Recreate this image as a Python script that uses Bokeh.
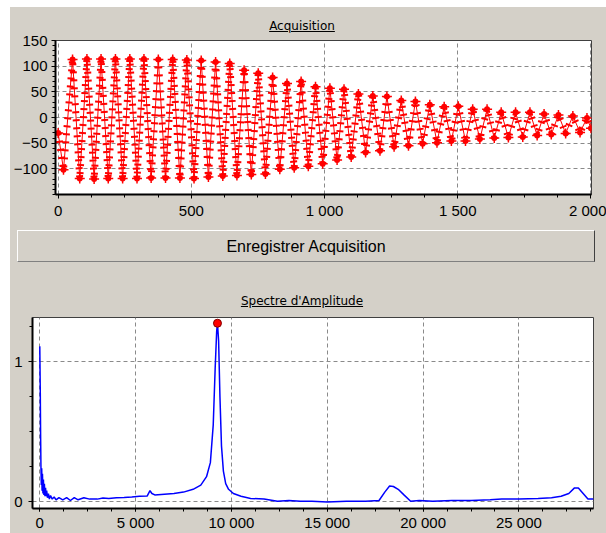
from bokeh.plotting import figure
from bokeh.models import Div, FixedTicker, Range1d
from bokeh.layouts import column
from bokeh.embed import file_html
from bokeh.resources import INLINE

BG = "#D4D0C8"
TICK_FONT = "Liberation Sans"

# ---------------- data: acquisition (extremes of the damped oscillation) -------------
acq_x = [0, 20, 54, 81, 108, 135, 161, 188, 215, 242, 269, 296, 322, 349, 376, 403,
         430, 457, 483, 510, 537, 564, 591, 618, 644, 671, 698, 725, 751, 778, 805,
         832, 859, 886, 912, 939, 966, 993, 1020, 1047, 1073, 1100, 1127, 1154, 1181,
         1208, 1234, 1261, 1288, 1315, 1341, 1368, 1395, 1422, 1449, 1476, 1502, 1529,
         1556, 1583, 1610, 1637, 1663, 1690, 1717, 1744, 1771, 1798, 1824, 1851, 1878,
         1905, 1932, 1959, 1985, 2000]
acq_y = [-30, -102, 113, -119, 114, -120, 114, -119, 114, -119, 114, -119, 114, -118,
         113, -118, 113, -118, 112, -119, 111, -116, 108, -114, 105, -113, 92, -111,
         86, -110, 78, -101, 66, -98, 70, -95, 60, -90, 57, -83, 55, -77, 46, -68, 42,
         -65, 41, -57, 33, -55, 31, -51, 25, -49, 21, -46, 22, -46, 16, -42, 16, -40,
         10, -39, 10, -38, 10, -35, 7, -33, 5, -31, 3, -29, -1, -21]

acq_xticks = [0, 500, 1000, 1500, 2000]
acq_xlabels = ["0", "500", "1 000", "1 500", "2 000"]
acq_yticks = [-100, -50, 0, 50, 100, 150]

# ---------------- data: amplitude spectrum -------------
spec_f = [0, 25, 45, 60, 80, 100, 120, 140, 165, 190, 215, 240, 270, 300, 330, 360,
          400, 450, 500, 560, 650, 750, 850, 1000, 1200, 1400, 1600, 1800, 2000, 2300,
          2600, 3000, 3300, 3600, 4000, 4400, 4800, 5200, 5600, 5750, 5850, 6000, 6500,
          7000, 7500, 8000, 8400, 8700, 8900, 9050, 9150, 9230, 9271, 9330, 9400, 9480,
          9580, 9700, 9850, 10100, 10500, 11000, 11700, 12400, 13000, 13600, 14200,
          15000, 16000, 17000, 17700, 18000, 18250, 18450, 18700, 19000, 19350, 19800,
          20500, 21500, 22500, 23500, 24100, 25000, 26000, 26700, 27200, 27600, 27900,
          28100, 28350, 28600, 28890]
spec_a = [1.11, 0.80, 0.45, 0.26, 0.12, 0.24, 0.08, 0.20, 0.06, 0.16, 0.05, 0.13,
          0.04, 0.10, 0.04, 0.08, 0.03, 0.06, 0.02, 0.045, 0.02, 0.035, 0.015, 0.03,
          0.015, 0.03, 0.01, 0.03, 0.015, 0.03, 0.02, 0.02, 0.028, 0.025, 0.03, 0.032,
          0.035, 0.04, 0.042, 0.08, 0.06, 0.05, 0.055, 0.06, 0.07, 0.09, 0.12, 0.18,
          0.28, 0.55, 0.95, 1.22, 1.275, 1.15, 0.75, 0.40, 0.22, 0.13, 0.09, 0.06, 0.04,
          0.025, 0.02, 0.005, 0.01, 0.005, 0.005, 0.0, 0.005, 0.005, 0.01, 0.07, 0.113,
          0.11, 0.09, 0.05, 0.005, 0.01, 0.005, 0.01, 0.01, 0.015, 0.02, 0.02, 0.025,
          0.03, 0.04, 0.06, 0.10, 0.10, 0.06, 0.02, 0.02]
peak_f = [9271]
peak_a = [1.275]

spec_xticks = [0, 5000, 10000, 15000, 20000, 25000]
spec_xlabels = ["0", "5 000", "10 000", "15 000", "20 000", "25 000"]
spec_yticks = [0, 1]


def style_axes(p, xt, xl, xminor, yt, yminor, font_size):
    p.xaxis.ticker = FixedTicker(ticks=xt, minor_ticks=xminor)
    p.xaxis.major_label_overrides = {t: l for t, l in zip(xt, xl)}
    p.yaxis.ticker = FixedTicker(ticks=yt, minor_ticks=yminor)
    for ax in (p.xaxis[0], p.yaxis[0]):
        ax.axis_line_color = "black"
        ax.axis_line_width = 2
        ax.major_tick_line_color = "black"
        ax.minor_tick_line_color = "black"
        ax.major_tick_in = 0
        ax.minor_tick_in = 0
        ax.major_tick_out = 4
        ax.minor_tick_out = 3
        ax.major_label_text_font = TICK_FONT
        ax.major_label_text_font_size = font_size
        ax.major_label_text_color = "black"
    p.xaxis.major_label_standoff = 3
    p.yaxis.major_label_standoff = 4
    for g in (p.xgrid[0], p.ygrid[0]):
        g.grid_line_color = "#8a8a8a"
        g.grid_line_dash = "4 3"
        g.grid_line_width = 1
    p.xgrid.ticker = FixedTicker(ticks=xt)
    p.ygrid.ticker = FixedTicker(ticks=yt)


W = 596  # layout width (starts 10px from the left edge)

# ---------------- top figure -------------
p1 = figure(width=W, height=196, x_range=Range1d(-10, 2002), y_range=Range1d(-150, 150),
            output_backend="svg", toolbar_location=None,
            min_border_left=44, min_border_right=15, min_border_top=8, min_border_bottom=34,
            background_fill_color="white", border_fill_color=BG,
            outline_line_color="#404040", outline_line_width=1)
style_axes(p1, acq_xticks, acq_xlabels, list(range(0, 2001, 125)),
           acq_yticks, list(range(-150, 151, 10)), "15px")
p1.line(acq_x, acq_y, line_color="#ff0000", line_width=1)
p1.line(acq_x, acq_y, line_color="#ff0000", line_width=7, line_dash="2 6")
p1.scatter(acq_x, acq_y, marker="circle", size=6, fill_color="#ff0000", line_color=None)
p1.scatter(acq_x, acq_y, marker="cross", size=10, line_color="#ff0000", line_width=1.5)

# ---------------- bottom figure -------------
p2 = figure(width=W, height=223, x_range=Range1d(-380, 28890), y_range=Range1d(-0.047, 1.316),
            output_backend="svg", toolbar_location=None,
            min_border_left=22, min_border_right=13, min_border_top=7, min_border_bottom=23,
            background_fill_color="white", border_fill_color=BG,
            outline_line_color="#404040", outline_line_width=1)
style_axes(p2, spec_xticks, spec_xlabels, list(range(0, 28900, 1250)),
           spec_yticks, [0, 0.25, 0.5, 0.75, 1.0, 1.25], "15px")
p2.xaxis.major_label_standoff = 2
p2.xaxis.major_tick_out = 3
p2.yaxis.major_label_standoff = 6
p2.line(spec_f, spec_a, line_color="#0000ff", line_width=1.5)
p2.scatter(peak_f, peak_a, marker="circle", size=8, fill_color="#ff0000",
           line_color="#800000", line_width=1)

# ---------------- HTML pieces: titles and button -------------
title_style = ("position:absolute;left:0;width:584px;text-align:center;"
               "font-family:'DejaVu Sans';font-size:12px;line-height:14px;"
               "text-decoration:underline;color:#000;")
t1 = Div(width=W, height=25, margin=0, styles={"background-color": BG},
         text=f'<div style="position:relative;width:{W}px;height:25px;background:{BG};">'
              f'<span style="{title_style}top:12px;">Acquisition</span></div>')
btn = Div(width=W, height=62, margin=0, styles={"background-color": BG},
          text=f'<div style="position:relative;width:{W}px;height:62px;background:{BG};">'
               '<div style="position:absolute;left:7px;top:2px;width:578px;height:32px;'
               'border-top:1px solid #ffffff;border-left:1px solid #ffffff;'
               'border-right:1px solid #404040;border-bottom:1px solid #808080;'
               'text-align:center;line-height:32px;font-family:\'Liberation Sans\';'
               'font-size:16px;color:#000;">Enregistrer Acquisition</div></div>')
t2 = Div(width=W, height=20, margin=0, styles={"background-color": BG},
         text=f'<div style="position:relative;width:{W}px;height:20px;background:{BG};">'
              f'<span style="{title_style}top:4px;">Spectre d\'Amplitude</span></div>')

# two separate roots so that the plot frames are not aligned with each other
top_part = column(t1, p1, btn, spacing=0, margin=(7, 0, 0, 10),
                  styles={"background-color": BG})
bottom_part = column(t2, p2, spacing=0, margin=(0, 0, 0, 10),
                     styles={"background-color": BG})

open("out.html", "w").write(file_html([top_part, bottom_part], INLINE))
